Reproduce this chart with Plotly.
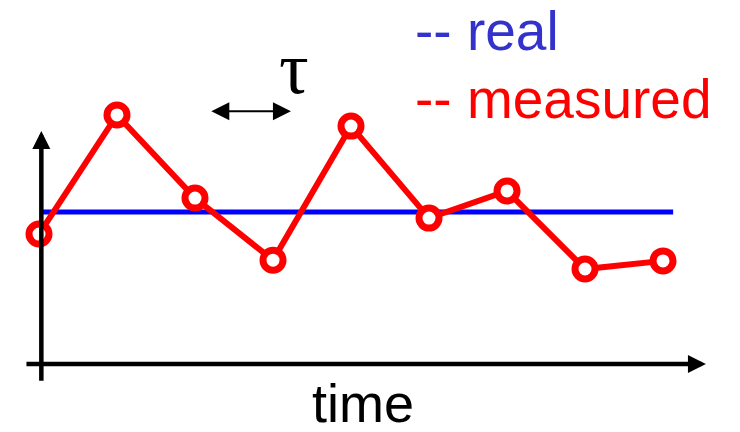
import plotly.graph_objects as go

# Sample index along the time axis and the measured signal at each sample
time_steps = [0, 1, 2, 3, 4, 5, 6, 7, 8]
measured = [5.13, 9.83, 6.55, 4.10, 9.39, 5.76, 6.83, 3.75, 4.07]

# Constant true value and the time span it is drawn over
real_level = 6.0
real_span = [0.04, 8.13]

# Axis extents (data units) used for the arrowed axes
x_axis_span = [-0.18, 8.55]
y_axis_span = [-0.72, 9.2]
axis_origin_t = 0.03

# Sampling interval marker (in time units)
tau_span = [2.19, 3.23]
tau_level = 9.98

fig = go.Figure()

fig.add_trace(go.Scatter(
    x=real_span, y=[real_level, real_level],
    mode="lines", line=dict(color="#0000ff", width=5),
    hoverinfo="skip",
))

fig.add_trace(go.Scatter(
    x=time_steps, y=measured,
    mode="lines+markers",
    line=dict(color="#ff0000", width=6),
    marker=dict(size=20, color="white", line=dict(color="#ff0000", width=7)),
))

annotations = []

# Horizontal (time) axis arrow
annotations.append(dict(
    x=x_axis_span[1], y=0, ax=x_axis_span[0], ay=0,
    xref="x", yref="y", axref="x", ayref="y",
    showarrow=True, arrowhead=2, arrowsize=0.8, arrowwidth=4.5, arrowcolor="black",
    text="",
))
# Vertical axis arrow
annotations.append(dict(
    x=axis_origin_t, y=y_axis_span[1], ax=axis_origin_t, ay=y_axis_span[0],
    xref="x", yref="y", axref="x", ayref="y",
    showarrow=True, arrowhead=2, arrowsize=0.8, arrowwidth=4.5, arrowcolor="black",
    text="",
))
# Double-headed arrow showing the sampling interval
annotations.append(dict(
    x=tau_span[1], y=tau_level, ax=tau_span[0], ay=tau_level,
    xref="x", yref="y", axref="x", ayref="y",
    showarrow=True, arrowhead=2, startarrowhead=2, arrowside="end+start",
    arrowsize=1.8, startarrowsize=1.8, arrowwidth=2, arrowcolor="black",
    text="",
))

W, H = 740, 432


def px(xp, yp):
    return xp / W, 1 - yp / H


tx, ty = px(294, 68)
annotations.append(dict(
    x=tx, y=ty, xref="paper", yref="paper", showarrow=False,
    text="τ", font=dict(family="Liberation Serif", size=74, color="black"),
    xanchor="center", yanchor="middle",
))

lx, ly = px(413, 31.5)
annotations.append(dict(
    x=lx, y=ly, xref="paper", yref="paper", showarrow=False,
    text="-- real", font=dict(family="Liberation Sans", size=55, color="#3333cc"),
    xanchor="left", yanchor="middle",
))
mx, my = px(413, 99)
annotations.append(dict(
    x=mx, y=my, xref="paper", yref="paper", showarrow=False,
    text="-- measured", font=dict(family="Liberation Sans", size=55, color="#ff0000"),
    xanchor="left", yanchor="middle",
))
timex, timey = px(363, 403)
annotations.append(dict(
    x=timex, y=timey, xref="paper", yref="paper", showarrow=False,
    text="time", font=dict(family="Liberation Sans", size=54, color="black"),
    xanchor="center", yanchor="middle",
))

fig.update_layout(
    width=W, height=H,
    margin=dict(l=0, r=0, t=0, b=0),
    paper_bgcolor="white", plot_bgcolor="white",
    showlegend=False,
    xaxis=dict(range=[-0.5, 8.987], visible=False, fixedrange=True),
    yaxis=dict(range=[-2.684, 14.368], visible=False, fixedrange=True),
    annotations=annotations,
)

fig.write_html("out.html")
